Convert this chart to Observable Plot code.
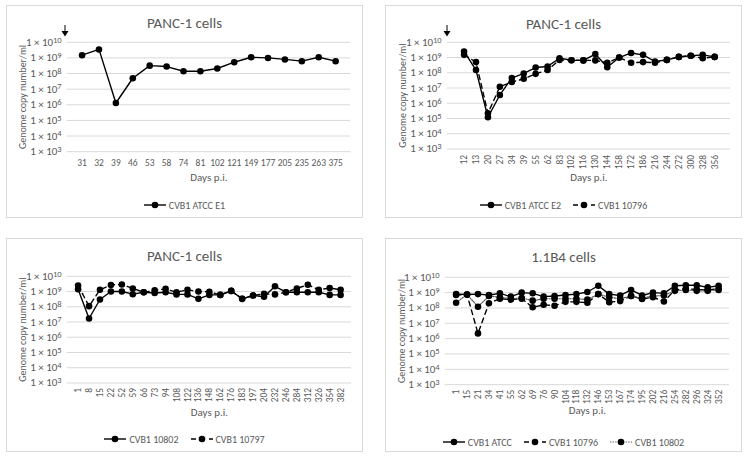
<!DOCTYPE html>
<html><head><meta charset="utf-8">
<script src="https://cdn.jsdelivr.net/npm/d3@7"></script>
<script src="https://cdn.jsdelivr.net/npm/@observablehq/plot@0.6"></script>
<style>
html,body{margin:0;padding:0;background:#fff;}
body{width:749px;height:459px;position:relative;overflow:hidden;font-family:Carlito,Calibri,Lato,sans-serif;color:#595959;}
.box{position:absolute;border:1px solid #d9d9d9;box-sizing:border-box;background:#fff;}
.title{position:absolute;left:0;right:0;text-align:center;font-size:15px;line-height:16px;color:#595959;}
.legend{position:absolute;left:0;right:0;height:12px;display:flex;justify-content:center;align-items:center;font-size:10px;gap:12px;color:#595959;}
.item{display:flex;align-items:center;gap:3px;}
.chart{position:absolute;left:-1px;top:-1px;}
.arrow{position:absolute;}
g[aria-label="y-axis label"]{font-size:10px;}
g[aria-label="x-axis label"]{font-size:11px;}
</style>
</head><body>
<script>
// ---- data ----
const yTicks = [1e3, 1e4, 1e5, 1e6, 1e7, 1e8, 1e9, 1e10];

const days1 = ["31","32","39","46","53","58","74","81","102","121","149","177","205","235","263","375"];
const atccE1 = [1.5e9, 3.5e9, 1.3e6, 5e7, 3.2e8, 2.8e8, 1.4e8, 1.4e8, 2.1e8, 5.3e8, 1.1e9, 1e9, 8e8, 6.2e8, 1.1e9, 6.2e8];

const days2 = ["12","13","20","27","34","39","55","62","83","102","116","130","144","158","172","186","216","244","272","300","328","356"];
const atccE2 = [2.5e9, 1.5e8, 1.2e5, 3.5e6, 4.5e7, 9e7, 2.2e8, 2.6e8, 9e8, 6.7e8, 6.5e8, 1.7e9, 2.3e8, 1e9, 2e9, 1.5e9, 5.5e8, 7e8, 1.1e9, 1.3e9, 1.5e9, 1.1e9];
const cvb10796a = [1.5e9, 5e8, 2.2e5, 1.2e7, 2.5e7, 4e7, 8.5e7, 1.5e8, 7e8, 6.7e8, 6.5e8, 6.5e8, 4.5e8, 1e9, 4.5e8, 5e8, 4.5e8, 7e8, 1.1e9, 1.3e9, 9e8, 1.1e9];

const days3 = ["1","8","15","22","52","59","66","73","94","108","122","136","148","162","176","183","197","204","232","246","284","312","326","354","382"];
const cvb10802a = [1.4e9, 1.7e7, 3e8, 1e9, 1e9, 6.7e8, 9e8, 8e8, 9e8, 6.5e8, 6.5e8, 3.3e8, 6e8, 6e8, 1.1e9, 3.3e8, 5.5e8, 4.5e8, 2.2e9, 9e8, 9e8, 9e8, 9e8, 6e8, 6e8];
const cvb10797 = [2.5e9, 1.1e8, 1.3e9, 2.7e9, 2.9e9, 1.6e9, 9e8, 1.2e9, 1.5e9, 9e8, 1.3e9, 1e9, 9.5e8, 6e8, 1.1e9, 3.3e8, 5.5e8, 7e8, 6.5e8, 9e8, 1.6e9, 2.8e9, 1.3e9, 1.7e9, 1.3e9];

const days4 = ["1","15","21","34","41","55","62","69","76","90","104","118","132","146","153","167","174","195","202","216","254","282","296","324","352"];
const atcc = [8e8, 7.5e8, 8e8, 7e8, 9e8, 5.5e8, 1e9, 9e8, 5.5e8, 6e8, 7e8, 8e8, 1.1e9, 2.8e9, 8e8, 6.5e8, 1.5e9, 6.5e8, 1e9, 9e8, 2.8e9, 3e9, 3e9, 2.2e9, 2.8e9];
const cvb10796b = [7e8, 7.5e8, 2.2e6, 2e8, 4e8, 3.5e8, 4e8, 1.1e8, 1.6e8, 1.4e8, 2.5e8, 2.5e8, 2.2e8, 8e8, 2.4e8, 2.8e8, 6e8, 3.8e8, 5e8, 2.6e8, 1.5e9, 1.8e9, 1.6e9, 1.5e9, 1.8e9];
const cvb10802b = [2.2e8, 7.5e8, 1.2e8, 6e8, 5e8, 4e8, 4.5e8, 3e8, 4e8, 4e8, 4e8, 4e8, 3.5e8, 8e8, 5e8, 4e8, 6e8, 4.3e8, 6e8, 6.5e8, 1.3e9, 1.5e9, 1.3e9, 1.3e9, 1.5e9];

// ---- styles ----
const STY = {
  solid:  {stroke: "#000", strokeWidth: 1.4, strokeDasharray: null},
  dashed: {stroke: "#000", strokeWidth: 1.4, strokeDasharray: "5,4"},
  dotted: {stroke: "#595959", strokeWidth: 1.2, strokeDasharray: "1.3,1.3"}
};

const panels = [
  {left: 6, top: 5, w: 357, h: 213, title: "PANC-1 cells", titleTop: 9, arrowX: 58, days: days1,
   series: [{name: "CVB1 ATCC E1", values: atccE1, style: "solid"}],
   ml: 61, mr: 11, mt: 37, mb: 38, height: 185, rotate: 0, tickPad: 8, xLabOff: 29, legendTop: 193},
  {left: 385, top: 5, w: 357, h: 213, title: "PANC-1 cells", titleTop: 10, arrowX: 61, days: days2,
   series: [{name: "CVB1 ATCC E2", values: atccE2, style: "solid"}, {name: "CVB1 10796", values: cvb10796a, style: "dashed"}],
   ml: 62, mr: 10, mt: 37, mb: 40.7, height: 185, rotate: -90, tickPad: 6, xLabOff: 32, legendTop: 193},
  {left: 6, top: 238, w: 357, h: 214, title: "PANC-1 cells", titleTop: 9, arrowX: null, days: days3,
   series: [{name: "CVB1 10802", values: cvb10802a, style: "solid"}, {name: "CVB1 10797", values: cvb10797, style: "dashed"}],
   ml: 61, mr: 10, mt: 38, mb: 39.7, height: 185, rotate: -90, tickPad: 5, xLabOff: 33, legendTop: 194},
  {left: 385, top: 238, w: 357, h: 214, title: "1.1B4 cells", titleTop: 10, arrowX: null, days: days4,
   series: [{name: "CVB1 ATCC", values: atcc, style: "solid"}, {name: "CVB1 10796", values: cvb10796b, style: "dashed"}, {name: "CVB1 10802", values: cvb10802b, style: "dotted"}],
   ml: 60, mr: 11, mt: 39, mb: 38, height: 185, rotate: -90, tickPad: 5, xLabOff: 29, legendTop: 197}
];

const NS = "http://www.w3.org/2000/svg";

function swatch(style) {
  const s = STY[style];
  const svg = document.createElementNS(NS, "svg");
  svg.setAttribute("width", 22); svg.setAttribute("height", 8);
  const l = document.createElementNS(NS, "line");
  l.setAttribute("x1", 0); l.setAttribute("x2", 22); l.setAttribute("y1", 4); l.setAttribute("y2", 4);
  l.setAttribute("stroke", s.stroke); l.setAttribute("stroke-width", s.strokeWidth);
  if (s.strokeDasharray) l.setAttribute("stroke-dasharray", s.strokeDasharray);
  svg.appendChild(l);
  const c = document.createElementNS(NS, "circle");
  c.setAttribute("cx", 11); c.setAttribute("cy", 4); c.setAttribute("r", 3.3); c.setAttribute("fill", "#000");
  svg.appendChild(c);
  return svg;
}

for (const p of panels) {
  const box = document.createElement("div");
  box.className = "box";
  Object.assign(box.style, {left: p.left + "px", top: p.top + "px", width: p.w + "px", height: p.h + "px"});
  document.body.appendChild(box);

  const rows = [];
  for (const s of p.series) s.values.forEach((v, i) => rows.push({day: p.days[i], v, name: s.name}));

  const marks = [
    Plot.gridY(yTicks, {stroke: "#d9d9d9", strokeOpacity: 1, strokeWidth: 1}),
    Plot.axisY(yTicks, {tickSize: 0, tickPadding: 5.5, fontSize: 11, tickFormat: d => "1 × 10^" + Math.round(Math.log10(d)),
      label: "Genome copy number/ml", labelAnchor: "center", labelOffset: 48, labelArrow: "none"}),
    Plot.axisX({tickSize: 0, tickPadding: p.tickPad, tickRotate: p.rotate, fontSize: 9.5,
      label: "Days p.i.", labelAnchor: "center", labelOffset: p.xLabOff, labelArrow: "none"})
  ];
  for (const s of p.series) {
    const st = STY[s.style];
    marks.push(Plot.line(rows.filter(r => r.name === s.name), {x: "day", y: "v", stroke: st.stroke, strokeWidth: st.strokeWidth,
      strokeDasharray: st.strokeDasharray ?? undefined}));
  }
  for (const s of p.series) {
    marks.push(Plot.dot(rows.filter(r => r.name === s.name), {x: "day", y: "v", r: 3.3, fill: "#000", stroke: null}));
  }

  const chart = Plot.plot({
    width: p.w, height: p.height,
    marginLeft: p.ml, marginRight: p.mr, marginTop: p.mt, marginBottom: p.mb,
    x: {type: "point", domain: p.days, padding: 0.5},
    y: {type: "log", domain: [1e3, 1e10]},
    style: {fontFamily: "Carlito, Calibri, Lato, sans-serif", fontSize: "10px", color: "#595959", background: "transparent", overflow: "visible"},
    marks
  });
  chart.classList.add("chart");
  chart.querySelectorAll("text").forEach(t => {
    const m = t.textContent.match(/^1 × 10\^(\d+)$/);
    if (m) {
      t.textContent = "1 × 10";
      const ts = document.createElementNS(NS, "tspan");
      ts.setAttribute("dy", "-0.38em");
      ts.setAttribute("font-size", "0.78em");
      ts.textContent = m[1];
      t.appendChild(ts);
    } else if (/[↑→↓←]/.test(t.textContent)) {
      t.textContent = t.textContent.replace(/\s*[↑→↓←]\s*/g, "").trim();
    }
  });
  box.appendChild(chart);

  const title = document.createElement("div");
  title.className = "title";
  title.style.top = p.titleTop + "px";
  title.textContent = p.title;
  box.appendChild(title);

  if (p.arrowX != null) {
    const a = document.createElementNS(NS, "svg");
    a.setAttribute("class", "arrow");
    a.setAttribute("width", 10); a.setAttribute("height", 12);
    a.style.left = (p.arrowX - 5) + "px"; a.style.top = "19px";
    a.innerHTML = '<line x1="5" y1="0" x2="5" y2="8" stroke="#000" stroke-width="1"/><path d="M1.5,6 L8.5,6 L5,11.5 Z" fill="#000"/>';
    box.appendChild(a);
  }

  const lg = document.createElement("div");
  lg.className = "legend";
  lg.style.top = p.legendTop + "px";
  for (const s of p.series) {
    const it = document.createElement("div");
    it.className = "item";
    it.appendChild(swatch(s.style));
    const sp = document.createElement("span");
    sp.textContent = s.name;
    it.appendChild(sp);
    lg.appendChild(it);
  }
  box.appendChild(lg);
}
</script>
</body></html>
